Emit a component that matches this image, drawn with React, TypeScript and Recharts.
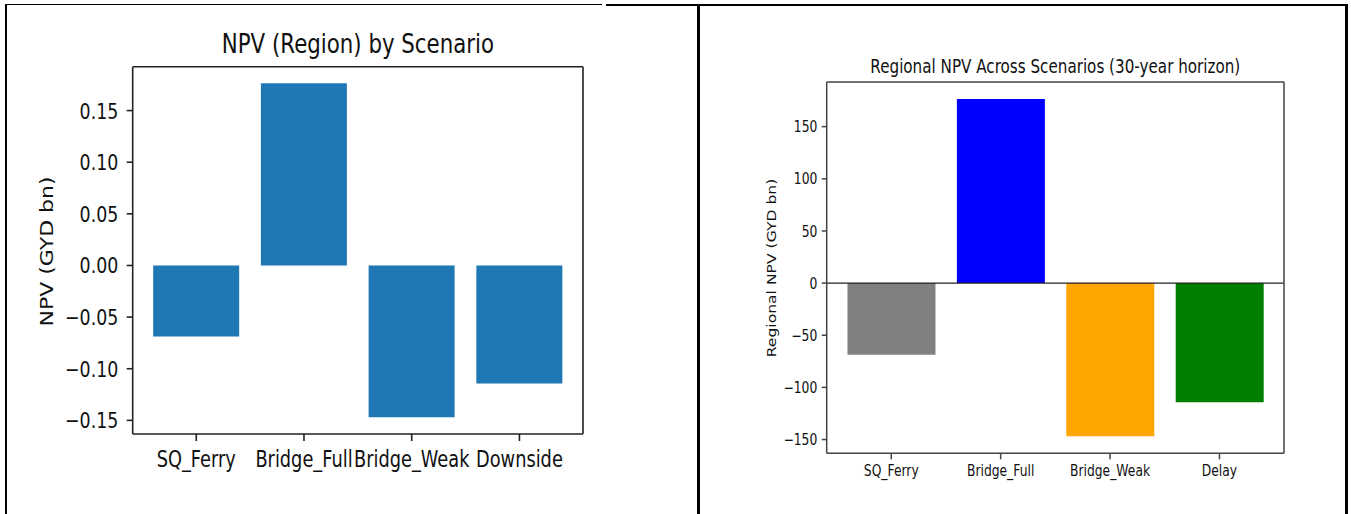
import React from "react";
import { BarChart, Bar, XAxis, YAxis, Cell, ReferenceLine } from "recharts";

// ---- data ----
const leftCategories = ["SQ_Ferry", "Bridge_Full", "Bridge_Weak", "Downside"];
const leftValues = [-0.0688, 0.1764, -0.1469, -0.1142];
const leftTicks = [-0.15, -0.1, -0.05, 0, 0.05, 0.1, 0.15];
const leftDomain = [-0.1632, 0.1925];
const leftTitle = "NPV (Region) by Scenario";
const leftYLabel = "NPV (GYD bn)";

const rightCategories = ["SQ_Ferry", "Bridge_Full", "Bridge_Weak", "Delay"];
const rightValues = [-68.8, 176.4, -146.9, -114.2];
const rightTicks = [-150, -100, -50, 0, 50, 100, 150];
const rightDomain = [-163.2, 192.8];
const rightTitle = "Regional NPV Across Scenarios (30-year horizon)";
const rightYLabel = "Regional NPV (GYD bn)";

const rightColors = ["#808080", "#0000ff", "#ffa500", "#008000"];

const leftData = leftCategories.map((name, i) => ({ name, value: leftValues[i] }));
const rightData = rightCategories.map((name, i) => ({ name, value: rightValues[i] }));

const FONT = "'DejaVu Sans', 'Noto Sans', sans-serif";
const SX = 0.79;
const TXT = "#111";

const minus = (s: string) => s.replace("-", "\u2212");
const fmtLeft = (v: number) => minus(v.toFixed(2));
const fmtRight = (v: number) => minus(String(v));

function YTick(props: any) {
  const { x, y, payload, fs, fmt } = props;
  return (
    <text
      transform={`translate(${x},${y}) scale(${SX},1)`}
      x={0}
      y={0}
      dy={fs * 0.364}
      textAnchor="end"
      fontSize={fs}
      fontFamily={FONT}
      fill={TXT}
    >
      {fmt(payload.value)}
    </text>
  );
}

function XTick(props: any) {
  const { x, y, payload, fs, dy } = props;
  return (
    <text
      transform={`translate(${x},${y}) scale(${SX},1)`}
      x={0}
      y={0}
      dy={dy}
      textAnchor="middle"
      fontSize={fs}
      fontFamily={FONT}
      fill={TXT}
    >
      {payload.value}
    </text>
  );
}

function LeftChart() {
  const W = 700;
  const H = 514;
  const plotL = 132.7;
  const plotR = 583;
  const plotT = 66.7;
  const plotB = 434;
  const pw = plotR - plotL;
  const pad = (pw * 0.09) / 4.18;
  const axisStyle = { stroke: "#222", strokeWidth: 1.6 };
  return (
    <BarChart
      width={W}
      height={H}
      data={leftData}
      margin={{ top: plotT - 1, right: W - plotR - 1, left: 0, bottom: 0 }}
      barCategoryGap="10%"
    >
      <XAxis
        dataKey="name"
        type="category"
        height={H - plotB}
        padding={{ left: pad, right: pad }}
        axisLine={axisStyle}
        tickLine={axisStyle}
        tickSize={7}
        tickMargin={0}
        interval={0}
        tick={(p: any) => <XTick {...p} fs={22.5} dy={26} />}
      />
      <XAxis xAxisId="top" orientation="top" dataKey="name" height={1} tick={false} tickLine={false} axisLine={axisStyle} />
      <YAxis
        type="number"
        domain={leftDomain}
        ticks={leftTicks}
        allowDataOverflow
        width={plotL}
        axisLine={axisStyle}
        tickLine={axisStyle}
        tickSize={6}
        tickMargin={8.4}
        interval={0}
        tick={(p: any) => <YTick {...p} fs={22} fmt={fmtLeft} />}
      />
      <YAxis yAxisId="right" orientation="right" type="number" domain={leftDomain} width={1} tick={false} tickLine={false} axisLine={axisStyle} />
      <Bar dataKey="value" fill="#1f77b4" isAnimationActive={false} />
    </BarChart>
  );
}

function RightChart() {
  const W = 651;
  const H = 514;
  const plotL = 126.7;
  const plotR = 584;
  const plotT = 82;
  const plotB = 453.3;
  const pw = plotR - plotL;
  const pad = (pw * 0.09) / 4.18;
  const axisStyle = { stroke: "#444", strokeWidth: 1.5 };
  return (
    <BarChart
      width={W}
      height={H}
      data={rightData}
      margin={{ top: plotT - 1, right: W - plotR - 1, left: 0, bottom: 0 }}
      barCategoryGap="10%"
    >
      <XAxis
        dataKey="name"
        type="category"
        height={H - plotB}
        padding={{ left: pad, right: pad }}
        axisLine={axisStyle}
        tickLine={axisStyle}
        tickSize={6}
        tickMargin={0}
        interval={0}
        tick={(p: any) => <XTick {...p} fs={15.6} dy={17.2} />}
      />
      <XAxis xAxisId="top" orientation="top" dataKey="name" height={1} tick={false} tickLine={false} axisLine={axisStyle} />
      <YAxis
        type="number"
        domain={rightDomain}
        ticks={rightTicks}
        allowDataOverflow
        width={plotL}
        axisLine={axisStyle}
        tickLine={axisStyle}
        tickSize={5}
        tickMargin={4.4}
        interval={0}
        tick={(p: any) => <YTick {...p} fs={15.6} fmt={fmtRight} />}
      />
      <YAxis yAxisId="right" orientation="right" type="number" domain={rightDomain} width={1} tick={false} tickLine={false} axisLine={axisStyle} />
      <ReferenceLine y={0} stroke="#222" strokeWidth={1.4} ifOverflow="extendDomain" />
      <Bar dataKey="value" isAnimationActive={false}>
        {rightData.map((d, i) => (
          <Cell key={d.name} fill={rightColors[i]} />
        ))}
      </Bar>
    </BarChart>
  );
}

function Labels() {
  return (
    <svg width={1351} height={514} style={{ position: "absolute", left: 0, top: 0, pointerEvents: "none" }}>
      <text transform={`translate(357.9,53) scale(${SX},1)`} textAnchor="middle" fontSize={27} fontFamily={FONT} fill={TXT}>
        {leftTitle}
      </text>
      <text
        transform={`translate(47,251.5) scale(${SX},1) rotate(-90)`}
        textAnchor="middle"
        dy={22 * 0.364}
        fontSize={22}
        fontFamily={FONT}
        fill={TXT}
      >
        {leftYLabel}
      </text>
      <text transform={`translate(1055.3,72.6) scale(${SX},1)`} textAnchor="middle" fontSize={19.2} fontFamily={FONT} fill={TXT}>
        {rightTitle}
      </text>
      <text
        transform={`translate(771.5,268) scale(${SX},1) rotate(-90)`}
        textAnchor="middle"
        dy={15.6 * 0.364}
        fontSize={15.6}
        fontFamily={FONT}
        fill={TXT}
      >
        {rightYLabel}
      </text>
    </svg>
  );
}

const line = (l: number, t: number, w: number, h: number) => (
  <div style={{ position: "absolute", left: l, top: t, width: w, height: h, background: "#000" }} />
);

export default function App() {
  return (
    <div style={{ position: "absolute", left: 0, top: 0, width: 1351, height: 514, background: "#fff", overflow: "hidden" }}>
      <div style={{ position: "absolute", left: 0, top: 0 }}>
        <LeftChart />
      </div>
      <div style={{ position: "absolute", left: 700, top: 0 }}>
        <RightChart />
      </div>
      <Labels />
      {line(5, 4, 2, 510)}
      {line(5, 4, 597, 1.3)}
      {line(606, 4, 742, 2)}
      {line(697, 4, 2.5, 510)}
      {line(1345, 4, 3, 510)}
    </div>
  );
}
